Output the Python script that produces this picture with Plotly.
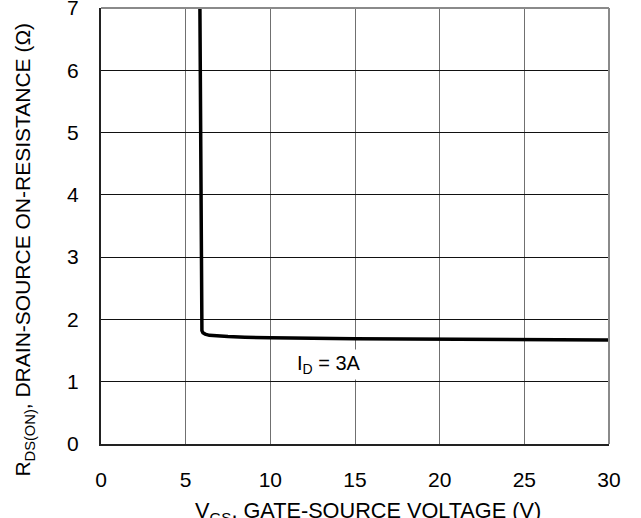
import plotly.graph_objects as go

vgs = [5.83, 5.85, 5.87, 5.89, 5.91, 5.93, 5.96, 6.02, 6.15, 6.4, 6.8, 7.5, 8.5, 10, 15, 20, 25, 30]
rds = [7.5, 6.5, 5.5, 4.0, 3.0, 2.0, 1.82, 1.785, 1.765, 1.745, 1.735, 1.725, 1.715, 1.705, 1.69, 1.68, 1.675, 1.67]

x_ticks = [0, 5, 10, 15, 20, 25, 30]
y_ticks = [0, 1, 2, 3, 4, 5, 6, 7]
label_text = "I<sub>D</sub> = 3A"
label_pos = (13.45, 1.28)
x_title = "V<sub>GS</sub>, GATE-SOURCE VOLTAGE (V)"
y_title = "R<sub>DS(ON)</sub>, DRAIN-SOURCE ON-RESISTANCE (Ω)"

FONT = "Liberation Sans, Arial, sans-serif"

fig = go.Figure()
fig.add_trace(go.Scatter(x=vgs, y=rds, mode="lines",
                         line=dict(color="black", width=3.5), showlegend=False,
                         hoverinfo="skip"))

fig.add_annotation(x=label_pos[0], y=label_pos[1], text=label_text, showarrow=False,
                   font=dict(family=FONT, size=20, color="black"),
                   bgcolor="white", borderpad=2)

# axis titles
fig.add_annotation(xref="paper", yref="paper", x=0.526, y=-0.119, text=x_title,
                   showarrow=False, xanchor="center", yanchor="top",
                   font=dict(family=FONT, size=21.7, color="black"))
fig.add_annotation(xref="paper", yref="paper", x=-0.1506, y=0.447, text=y_title,
                   showarrow=False, xanchor="center", yanchor="middle", textangle=-90,
                   font=dict(family=FONT, size=21, color="black"))

# top and right frame lines (gray)
fig.add_shape(type="line", xref="paper", yref="paper", x0=0, x1=1, y0=1, y1=1,
              line=dict(color="#8a8a8a", width=2))
fig.add_shape(type="line", xref="paper", yref="paper", x0=1, x1=1, y0=0, y1=1,
              line=dict(color="#8a8a8a", width=2))

fig.update_layout(
    width=641, height=518,
    margin=dict(l=101, r=32, t=8, b=74),
    paper_bgcolor="white", plot_bgcolor="white",
    font=dict(family=FONT, size=21, color="black"),
    xaxis=dict(range=[0, 30], tickvals=x_ticks, ticktext=[str(v) for v in x_ticks],
               showgrid=True, gridcolor="#707070", gridwidth=1,
               showline=True, linecolor="#222", linewidth=2,
               zeroline=False, ticks="", ticklabelstandoff=16, automargin=False,
               ticklabeloverflow="allow", tickfont=dict(size=21)),
    yaxis=dict(range=[0, 7], tickvals=y_ticks, ticktext=[str(v) for v in y_ticks],
               showgrid=True, gridcolor="#111", gridwidth=1,
               showline=True, linecolor="#222", linewidth=2,
               zeroline=False, ticks="", ticklabelstandoff=16, automargin=False,
               ticklabeloverflow="allow", tickfont=dict(size=21)),
)

fig.write_html("out.html", config={"displayModeBar": False},
               post_script="document.body.style.margin='0';document.body.style.overflow='hidden';")
